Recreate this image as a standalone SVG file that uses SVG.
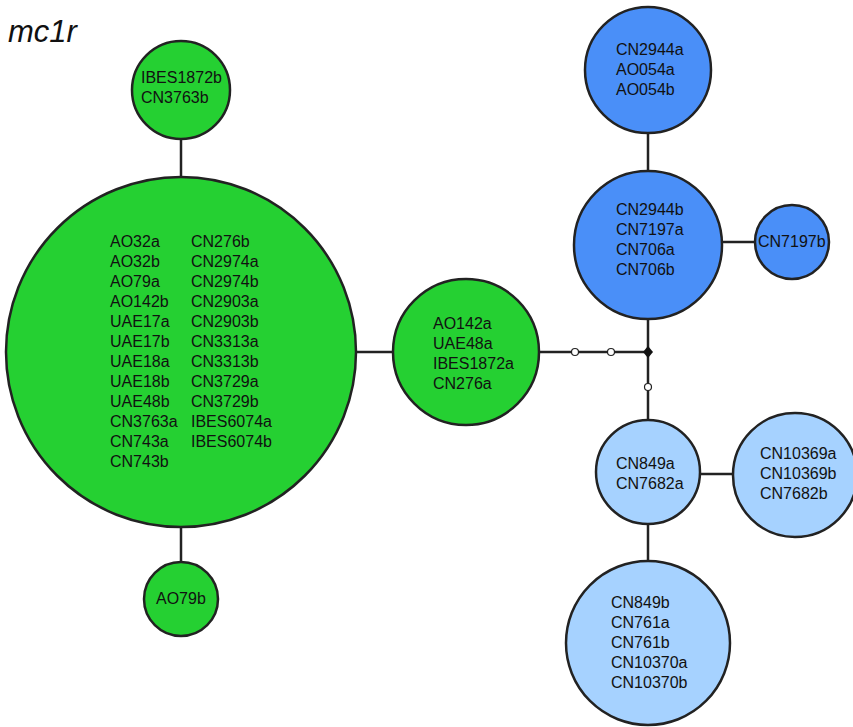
<svg xmlns="http://www.w3.org/2000/svg" width="853" height="727" viewBox="0 0 853 727">
<style>
.n{stroke:#222;stroke-width:2.5}
.g{fill:#25D032}
.b{fill:#4A8FF8}
.lb{fill:#A6D2FF}
.e{stroke:#222;stroke-width:2.5;fill:none}
.v{fill:#fff;stroke:#222;stroke-width:1.2}
text{font-family:"Liberation Sans",Arial,sans-serif;font-size:16px;fill:#111}
.t{font-size:31px;font-style:italic}
</style>
<rect width="853" height="727" fill="#fff"/>
<text class="t" x="8" y="42">mc1r</text>
<g id="edges">
<line class="e" x1="181" y1="139" x2="181" y2="178"/>
<line class="e" x1="181" y1="526" x2="181" y2="563"/>
<line class="e" x1="355" y1="352" x2="394" y2="352"/>
<line class="e" x1="537" y1="352" x2="648" y2="352"/>
<line class="e" x1="648" y1="131" x2="648" y2="170"/>
<line class="e" x1="648" y1="318" x2="648" y2="420"/>
<line class="e" x1="720" y1="242" x2="757" y2="242"/>
<line class="e" x1="698" y1="474" x2="737" y2="474"/>
<line class="e" x1="648" y1="523" x2="648" y2="563"/>
<circle class="v" cx="575" cy="352" r="3.5"/>
<circle class="v" cx="611" cy="352" r="3.5"/>
<circle class="v" cx="648" cy="387" r="3.5"/>
<path d="M648 346 L653 352 L648 358 L643 352 Z" fill="#111"/>
</g>
<g id="n1">
<circle class="n g" cx="181" cy="90" r="49"/>
<text x="141" y="83">IBES1872b</text>
<text x="141" y="103">CN3763b</text>
</g>
<g id="n2">
<circle class="n g" cx="181" cy="352" r="175"/>
<text x="110" y="247">AO32a</text>
<text x="110" y="267">AO32b</text>
<text x="110" y="287">AO79a</text>
<text x="110" y="307">AO142b</text>
<text x="110" y="327">UAE17a</text>
<text x="110" y="347">UAE17b</text>
<text x="110" y="367">UAE18a</text>
<text x="110" y="387">UAE18b</text>
<text x="110" y="407">UAE48b</text>
<text x="110" y="427">CN3763a</text>
<text x="110" y="447">CN743a</text>
<text x="110" y="467">CN743b</text>
<text x="191" y="247">CN276b</text>
<text x="191" y="267">CN2974a</text>
<text x="191" y="287">CN2974b</text>
<text x="191" y="307">CN2903a</text>
<text x="191" y="327">CN2903b</text>
<text x="191" y="347">CN3313a</text>
<text x="191" y="367">CN3313b</text>
<text x="191" y="387">CN3729a</text>
<text x="191" y="407">CN3729b</text>
<text x="191" y="427">IBES6074a</text>
<text x="191" y="447">IBES6074b</text>
</g>
<g id="n3">
<circle class="n g" cx="181" cy="599" r="37"/>
<text x="156" y="604">AO79b</text>
</g>
<g id="n4">
<circle class="n g" cx="466" cy="352" r="73"/>
<text x="433" y="329">AO142a</text>
<text x="433" y="349">UAE48a</text>
<text x="433" y="369">IBES1872a</text>
<text x="433" y="389">CN276a</text>
</g>
<g id="n5">
<circle class="n b" cx="648" cy="70" r="63"/>
<text x="616" y="55">CN2944a</text>
<text x="616" y="75">AO054a</text>
<text x="616" y="95">AO054b</text>
</g>
<g id="n6">
<circle class="n b" cx="648" cy="245" r="74"/>
<text x="616" y="215">CN2944b</text>
<text x="616" y="235">CN7197a</text>
<text x="616" y="255">CN706a</text>
<text x="616" y="275">CN706b</text>
</g>
<g id="n7">
<circle class="n b" cx="792" cy="242" r="37"/>
<text x="758" y="247">CN7197b</text>
</g>
<g id="n8">
<circle class="n lb" cx="648" cy="472" r="52"/>
<text x="616" y="469">CN849a</text>
<text x="616" y="489">CN7682a</text>
</g>
<g id="n9">
<circle class="n lb" cx="795" cy="475" r="62"/>
<text x="760" y="459">CN10369a</text>
<text x="760" y="479">CN10369b</text>
<text x="760" y="499">CN7682b</text>
</g>
<g id="n10">
<circle class="n lb" cx="648" cy="643" r="82"/>
<text x="611" y="608">CN849b</text>
<text x="611" y="628">CN761a</text>
<text x="611" y="648">CN761b</text>
<text x="611" y="668">CN10370a</text>
<text x="611" y="688">CN10370b</text>
</g>
</svg>
